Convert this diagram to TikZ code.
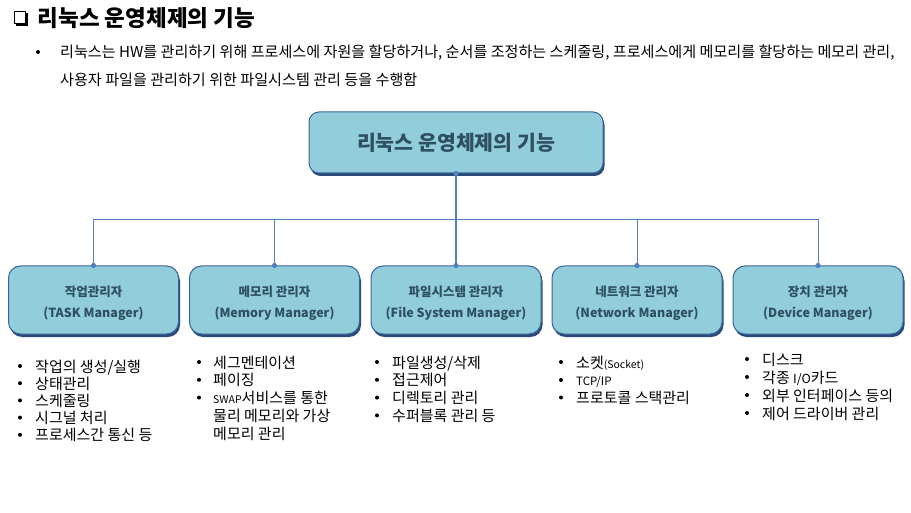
\documentclass[tikz,border=0pt]{standalone}
\usepackage{fontspec}
\setmainfont{Noto Sans CJK KR}
\usetikzlibrary{shadows}
\definecolor{boxfill}{HTML}{92CDDC}
\definecolor{boxline}{HTML}{3A6598}
\definecolor{boxshadow}{HTML}{2B4A7C}
\definecolor{connc}{HTML}{4F81BD}
\definecolor{boxtext}{HTML}{2E5060}
\begin{document}
\begin{tikzpicture}[x=1pt,y=-1pt,
  boxbase/.style={draw=boxline, line width=1pt, fill=boxfill, inner sep=0pt, align=center, text=boxtext,
    drop shadow={shadow xshift=1.5pt, shadow yshift=-3pt, fill=boxshadow, opacity=1}},
  mgr/.style={boxbase, rounded corners=12pt, minimum width=170pt, minimum height=68pt},
  mgrtext/.style={inner sep=0pt, align=center, text=boxtext, font=\fontsize{12.5}{20.5}\selectfont\bfseries},
  topbox/.style={boxbase, rounded corners=10pt, minimum width=294pt, minimum height=61pt,
    font=\fontsize{20.5}{24}\selectfont\bfseries},
  connline/.style={draw=connc, line width=1pt},
  item/.style={anchor=base west, inner sep=0pt, font=\fontsize{15}{17}\selectfont},
  bul/.style={circle, fill=black, inner sep=0pt, minimum size=4pt}
]
\useasboundingbox (0,0) rectangle (911,513);

% title
\draw[line width=1.3pt] (14.5,11.5) rectangle (25.5,23.5);
\draw[line width=1.6pt] (27,13) -- (27,25) -- (16,25);
\node[anchor=base west, inner sep=0pt, font=\fontsize{22.5}{26}\selectfont\bfseries] (title) at (37.5,27) {리눅스 운영체제의 기능};

% paragraph
\node[bul] (pb) at (38,52) {};
\node[anchor=base west, inner sep=0pt, font=\fontsize{15.1}{17}\selectfont] (p1) at (60,58) {리눅스는 HW를 관리하기 위해 프로세스에 자원을 할당하거나, 순서를 조정하는 스케줄링, 프로세스에게 메모리를 할당하는 메모리 관리,};
\node[anchor=base west, inner sep=0pt, font=\fontsize{15.1}{17}\selectfont] (p2) at (60,86) {사용자 파일을 관리하기 위한 파일시스템 관리 등을 수행함};

% boxes
\node[topbox] (top) at (456,142.5) {리눅스 운영체제의 기능};
\node[mgr] (m1) at (93.5,300) {};
\node[mgr] (m2) at (274.5,300) {};
\node[mgr] (m3) at (456,300) {};
\node[mgr] (m4) at (637,300) {};
\node[mgr] (m5) at (818,300) {};
\node[mgrtext] (m1t) at (93.5,303) {작업관리자\\(TASK Manager)};
\node[mgrtext] (m2t) at (274.5,303) {메모리 관리자\\(Memory Manager)};
\node[mgrtext] (m3t) at (456,303) {파일시스템 관리자\\(File System Manager)};
\node[mgrtext] (m4t) at (637,303) {네트워크 관리자\\(Network Manager)};
\node[mgrtext] (m5t) at (818,303) {장치 관리자\\(Device Manager)};

% connectors
\coordinate (bar) at (456,219.5);
\draw[connline, line width=1.4pt] (top.south) -- (m3.north);
\draw[connline] (m1.north) -- (m1.north |- bar) -- (m5.north |- bar) -- (m5.north);
\draw[connline] (m2.north) -- (m2.north |- bar);
\draw[connline] (m4.north) -- (m4.north |- bar);
\foreach \n in {m1,m2,m3,m4,m5} \fill[connc] (\n.north) circle (2.6pt);
\fill[connc] (top.south) circle (2.6pt);

% list 1
\foreach \t [count=\i] in {작업의 생성/실행, 상태관리, 스케줄링, 시그널 처리, 프로세스간 통신 등}{
  \node[bul] (b1-\i) at (20,{366+(\i-1)*17.2}) {};
  \node[item] (l1-\i) at (35,{372+(\i-1)*17.2}) {\t};
}
% list 2
\foreach \t [count=\i] in {세그멘테이션, 페이징, {{\fontsize{10.5}{10}\selectfont SWAP}서비스를 통한}}{
  \node[bul] (b2-\i) at (199,{362+(\i-1)*17.8}) {};
  \node[item] (l2-\i) at (213,{368+(\i-1)*17.8}) {\t};
}
\node[item] (l2-4) at (213,421.4) {물리 메모리와 가상};
\node[item] (l2-5) at (213,439) {메모리 관리};
% list 3
\foreach \t [count=\i] in {파일생성/삭제, 접근제어, 디렉토리 관리, 수퍼블록 관리 등}{
  \node[bul] (b3-\i) at (377,{362+(\i-1)*17.8}) {};
  \node[item] (l3-\i) at (392,{368+(\i-1)*17.8}) {\t};
}
% list 4
\node[bul] (b4-1) at (561,362) {};
\node[item] (l4-1) at (576,368) {소켓{\fontsize{10.5}{10}\selectfont(Socket)}};
\node[bul] (b4-2) at (561,380) {};
\node[item, font=\fontsize{11.5}{12}\selectfont] (l4-2) at (576,385) {TCP/IP};
\node[bul] (b4-3) at (561,397.5) {};
\node[item] (l4-3) at (576,403.5) {프로토콜 스택관리};
% list 5
\foreach \t [count=\i] in {디스크, {각종 {\fontsize{12.5}{12}\selectfont I/O}카드}, 외부 인터페이스 등의, 제어 드라이버 관리}{
  \node[bul] (b5-\i) at (747,{359+(\i-1)*18}) {};
  \node[item] (l5-\i) at (762,{365+(\i-1)*18}) {\t};
}
\end{tikzpicture}
\end{document}
